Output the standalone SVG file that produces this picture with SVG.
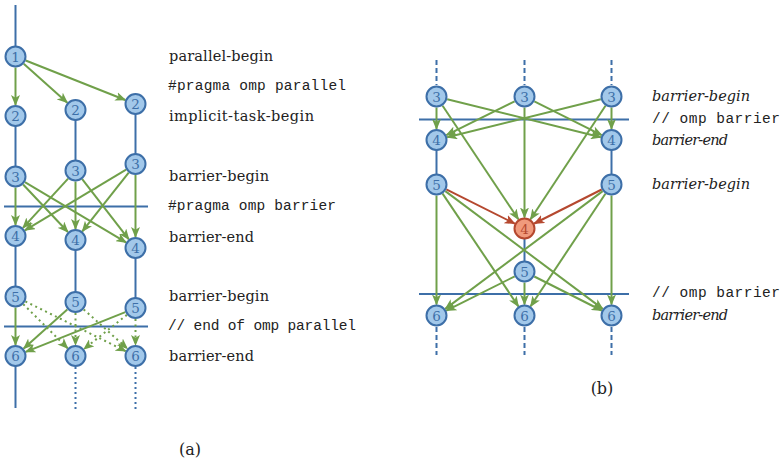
<svg xmlns="http://www.w3.org/2000/svg" width="781" height="463" viewBox="0 0 781 463">
<style>
.bg{fill:#ffffff}
.bl{stroke:#3d6fa8;stroke-width:2;fill:none}
.bd{stroke:#3d6fa8;stroke-width:2;fill:none;stroke-dasharray:2 3}
.bdash{stroke:#3d6fa8;stroke-width:2;fill:none;stroke-dasharray:5 3}
.g{stroke:#70a04a;stroke-width:2;fill:none;marker-end:url(#ag)}
.gd{stroke:#70a04a;stroke-width:2;fill:none;stroke-dasharray:2 3.5;marker-end:url(#ag)}
.r{stroke:#b5482f;stroke-width:2;fill:none;marker-end:url(#ar)}
.n circle{fill:#a2c8ea;stroke:#3d6fa8;stroke-width:2}
.n text{font-family:'DejaVu Serif',serif;font-size:13.5px;fill:#3d6fa8;text-anchor:middle}
.nr circle{fill:#f09a7c;stroke:#b5482f;stroke-width:2}
.nr text{font-family:'DejaVu Serif',serif;font-size:13.5px;fill:#b5482f;text-anchor:middle}
.lab{font-family:'DejaVu Serif',serif;font-size:14.5px;fill:#222}
.it{font-family:'DejaVu Serif',serif;font-size:14.5px;font-style:italic;fill:#222}
.mono{font-family:'Liberation Mono',monospace;font-size:14.5px;fill:#222}
.cap{font-family:'DejaVu Serif',serif;font-size:16px;fill:#222;text-anchor:middle}
</style>
<defs>
<marker id="ag" markerUnits="userSpaceOnUse" markerWidth="11" markerHeight="9" refX="10" refY="4.5" orient="auto" viewBox="0 0 11 9">
<path d="M0,0 L11,4.5 L0,9 L2.8,4.5 z" fill="#70a04a"/>
</marker>
<marker id="ar" markerUnits="userSpaceOnUse" markerWidth="11" markerHeight="9" refX="10" refY="4.5" orient="auto" viewBox="0 0 11 9">
<path d="M0,0 L11,4.5 L0,9 L2.8,4.5 z" fill="#b5482f"/>
</marker>
</defs>
<rect class="bg" x="0" y="0" width="781" height="463"/>

<g id="timelines-a">
<line class="bl" x1="15.5" y1="5" x2="15.5" y2="46"/>
<line class="bl" x1="15.5" y1="126" x2="15.5" y2="166"/>
<line class="bl" x1="75.5" y1="120" x2="75.5" y2="160"/>
<line class="bl" x1="135.5" y1="114" x2="135.5" y2="154"/>
<line class="bl" x1="15.5" y1="246" x2="15.5" y2="286"/>
<line class="bl" x1="75.5" y1="250" x2="75.5" y2="292"/>
<line class="bl" x1="135.5" y1="258" x2="135.5" y2="298"/>
<line class="bl" x1="15.5" y1="366" x2="15.5" y2="408"/>
<line class="bd" x1="75.5" y1="367" x2="75.5" y2="410"/>
<line class="bd" x1="135.5" y1="367" x2="135.5" y2="410"/>
<line class="bl" x1="4" y1="206.5" x2="148" y2="206.5"/>
<line class="bl" x1="4" y1="326.5" x2="148" y2="326.5"/>
</g>

<g id="timelines-b">
<line class="bdash" x1="436.5" y1="60" x2="436.5" y2="85"/>
<line class="bdash" x1="524.5" y1="60" x2="524.5" y2="85"/>
<line class="bdash" x1="611.5" y1="60" x2="611.5" y2="85"/>
<line class="bl" x1="436.5" y1="150" x2="436.5" y2="174"/>
<line class="bl" x1="611.5" y1="150" x2="611.5" y2="174"/>
<line class="bl" x1="524.5" y1="239" x2="524.5" y2="261"/>
<line class="bdash" x1="436.5" y1="327" x2="436.5" y2="355"/>
<line class="bdash" x1="524.5" y1="327" x2="524.5" y2="355"/>
<line class="bdash" x1="611.5" y1="327" x2="611.5" y2="355"/>
<line class="bl" x1="419" y1="119.5" x2="629" y2="119.5"/>
<line class="bl" x1="419" y1="294" x2="629" y2="294"/>
</g>

<g id="connectors">
<line class="g" x1="15.5" y1="67.5" x2="15.5" y2="105"/>
<line class="g" x1="23.7" y1="63.8" x2="67.3" y2="102.7"/>
<line class="g" x1="25.7" y1="60.5" x2="125.3" y2="100"/>
<line class="g" x1="15.5" y1="187.5" x2="15.5" y2="225"/>
<line class="g" x1="23.1" y1="184.5" x2="67.9" y2="232"/>
<line class="g" x1="24.9" y1="182.1" x2="126.1" y2="242.4"/>
<line class="g" x1="68.1" y1="178.6" x2="22.9" y2="227.9"/>
<line class="g" x1="75.5" y1="181.5" x2="75.5" y2="229"/>
<line class="g" x1="82.2" y1="179.2" x2="128.8" y2="239.3"/>
<line class="g" x1="126.1" y1="169.7" x2="24.9" y2="230.3"/>
<line class="g" x1="128.7" y1="172.6" x2="82.3" y2="231.4"/>
<line class="g" x1="135.5" y1="175" x2="135.5" y2="237"/>
<line class="g" x1="15.5" y1="307.5" x2="15.5" y2="345"/>
<line class="g" x1="67.3" y1="309.4" x2="23.7" y2="348.6"/>
<line class="g" x1="125.3" y1="312.1" x2="25.7" y2="351.9"/>
<line class="gd" x1="23.3" y1="304.2" x2="67.7" y2="348.3"/>
<line class="gd" x1="25.4" y1="301.4" x2="125.6" y2="351.1"/>
<line class="gd" x1="75.5" y1="313" x2="75.5" y2="345"/>
<line class="gd" x1="83.7" y1="309.4" x2="127.3" y2="348.6"/>
<line class="gd" x1="126.9" y1="314.9" x2="83.9" y2="349.1"/>
<line class="gd" x1="135.5" y1="319" x2="135.5" y2="345"/>
<line class="g" x1="436.5" y1="107.5" x2="436.5" y2="129"/>
<line class="g" x1="447.2" y1="99.2" x2="600.8" y2="137.3"/>
<line class="g" x1="442.6" y1="105.7" x2="518.4" y2="219.3"/>
<line class="g" x1="514.6" y1="101.4" x2="446.4" y2="135.1"/>
<line class="g" x1="534.3" y1="101.4" x2="601.7" y2="135.1"/>
<line class="g" x1="524.5" y1="107.5" x2="524.5" y2="217.5"/>
<line class="g" x1="600.8" y1="99.2" x2="447.2" y2="137.3"/>
<line class="g" x1="611.5" y1="107.5" x2="611.5" y2="129"/>
<line class="g" x1="605.5" y1="105.7" x2="530.5" y2="219.3"/>
<line class="r" x1="446.3" y1="189.4" x2="514.7" y2="223.6"/>
<line class="r" x1="601.7" y1="189.5" x2="534.3" y2="223.5"/>
<line class="g" x1="436.5" y1="195.5" x2="436.5" y2="304.5"/>
<line class="g" x1="442.6" y1="193.6" x2="518.4" y2="306.4"/>
<line class="g" x1="445.3" y1="191.1" x2="602.7" y2="308.9"/>
<line class="g" x1="602.7" y1="191.1" x2="445.3" y2="308.9"/>
<line class="g" x1="605.4" y1="193.7" x2="530.6" y2="306.3"/>
<line class="g" x1="611.5" y1="195.5" x2="611.5" y2="304.5"/>
<line class="g" x1="514.7" y1="276.4" x2="446.3" y2="310.6"/>
<line class="g" x1="524.5" y1="282.5" x2="524.5" y2="304.5"/>
<line class="g" x1="534.3" y1="276.5" x2="601.7" y2="310.5"/>
</g>

<g id="a-n1" class="n"><circle cx="15.5" cy="56.5" r="10"/><text x="15.5" y="61.5">1</text></g>
<g id="a-n2a" class="n"><circle cx="15.5" cy="116" r="10"/><text x="15.5" y="121">2</text></g>
<g id="a-n2b" class="n"><circle cx="75.5" cy="110" r="10"/><text x="75.5" y="115">2</text></g>
<g id="a-n2c" class="n"><circle cx="135.5" cy="104" r="10"/><text x="135.5" y="109">2</text></g>
<g id="a-n3a" class="n"><circle cx="15.5" cy="176.5" r="10"/><text x="15.5" y="181.5">3</text></g>
<g id="a-n3b" class="n"><circle cx="75.5" cy="170.5" r="10"/><text x="75.5" y="175.5">3</text></g>
<g id="a-n3c" class="n"><circle cx="135.5" cy="164" r="10"/><text x="135.5" y="169">3</text></g>
<g id="a-n4a" class="n"><circle cx="15.5" cy="236" r="10"/><text x="15.5" y="241">4</text></g>
<g id="a-n4b" class="n"><circle cx="75.5" cy="240" r="10"/><text x="75.5" y="245">4</text></g>
<g id="a-n4c" class="n"><circle cx="135.5" cy="248" r="10"/><text x="135.5" y="253">4</text></g>
<g id="a-n5a" class="n"><circle cx="15.5" cy="296.5" r="10"/><text x="15.5" y="301.5">5</text></g>
<g id="a-n5b" class="n"><circle cx="75.5" cy="302" r="10"/><text x="75.5" y="307">5</text></g>
<g id="a-n5c" class="n"><circle cx="135.5" cy="308" r="10"/><text x="135.5" y="313">5</text></g>
<g id="a-n6a" class="n"><circle cx="15.5" cy="356" r="10"/><text x="15.5" y="361">6</text></g>
<g id="a-n6b" class="n"><circle cx="75.5" cy="356" r="10"/><text x="75.5" y="361">6</text></g>
<g id="a-n6c" class="n"><circle cx="135.5" cy="356" r="10"/><text x="135.5" y="361">6</text></g>

<g id="b-n3l" class="n"><circle cx="436.5" cy="96.5" r="10"/><text x="436.5" y="101.5">3</text></g>
<g id="b-n3m" class="n"><circle cx="524.5" cy="96.5" r="10"/><text x="524.5" y="101.5">3</text></g>
<g id="b-n3r" class="n"><circle cx="611.5" cy="96.5" r="10"/><text x="611.5" y="101.5">3</text></g>
<g id="b-n4l" class="n"><circle cx="436.5" cy="140" r="10"/><text x="436.5" y="145">4</text></g>
<g id="b-n4r" class="n"><circle cx="611.5" cy="140" r="10"/><text x="611.5" y="145">4</text></g>
<g id="b-n5l" class="n"><circle cx="436.5" cy="184.5" r="10"/><text x="436.5" y="189.5">5</text></g>
<g id="b-n5r" class="n"><circle cx="611.5" cy="184.5" r="10"/><text x="611.5" y="189.5">5</text></g>
<g id="b-n4red" class="nr"><circle cx="524.5" cy="228.5" r="10"/><text x="524.5" y="233.5">4</text></g>
<g id="b-n5m" class="n"><circle cx="524.5" cy="271.5" r="10"/><text x="524.5" y="276.5">5</text></g>
<g id="b-n6l" class="n"><circle cx="436.5" cy="315.5" r="10"/><text x="436.5" y="320.5">6</text></g>
<g id="b-n6m" class="n"><circle cx="524.5" cy="315.5" r="10"/><text x="524.5" y="320.5">6</text></g>
<g id="b-n6r" class="n"><circle cx="611.5" cy="315.5" r="10"/><text x="611.5" y="320.5">6</text></g>

<g id="labels-a">
<text class="lab" x="169" y="60.5" textLength="104" lengthAdjust="spacing">parallel-begin</text>
<text class="mono" x="168" y="89.5" textLength="178" lengthAdjust="spacing">#pragma omp parallel</text>
<text class="lab" x="169" y="121" textLength="145" lengthAdjust="spacing">implicit-task-begin</text>
<text class="lab" x="169" y="180.5" textLength="100" lengthAdjust="spacing">barrier-begin</text>
<text class="mono" x="168" y="209.5" textLength="168" lengthAdjust="spacing">#pragma omp barrier</text>
<text class="lab" x="169" y="241.5" textLength="85" lengthAdjust="spacing">barrier-end</text>
<text class="lab" x="169" y="300.5" textLength="100" lengthAdjust="spacing">barrier-begin</text>
<text class="mono" x="168" y="329.5" textLength="188" lengthAdjust="spacing">// end of omp parallel</text>
<text class="lab" x="169" y="361" textLength="85" lengthAdjust="spacing">barrier-end</text>
<text class="cap" x="190" y="454.5">(a)</text>
</g>

<g id="labels-b">
<text class="it" x="652" y="101" textLength="98" lengthAdjust="spacing">barrier-begin</text>
<text class="mono" x="652" y="123" textLength="128" lengthAdjust="spacing">// omp barrier</text>
<text class="it" x="652" y="145" textLength="76" lengthAdjust="spacing">barrier-end</text>
<text class="it" x="652" y="189" textLength="98" lengthAdjust="spacing">barrier-begin</text>
<text class="mono" x="652" y="297" textLength="128" lengthAdjust="spacing">// omp barrier</text>
<text class="it" x="652" y="320" textLength="76" lengthAdjust="spacing">barrier-end</text>
<text class="cap" x="602" y="393.5">(b)</text>
</g>
</svg>
